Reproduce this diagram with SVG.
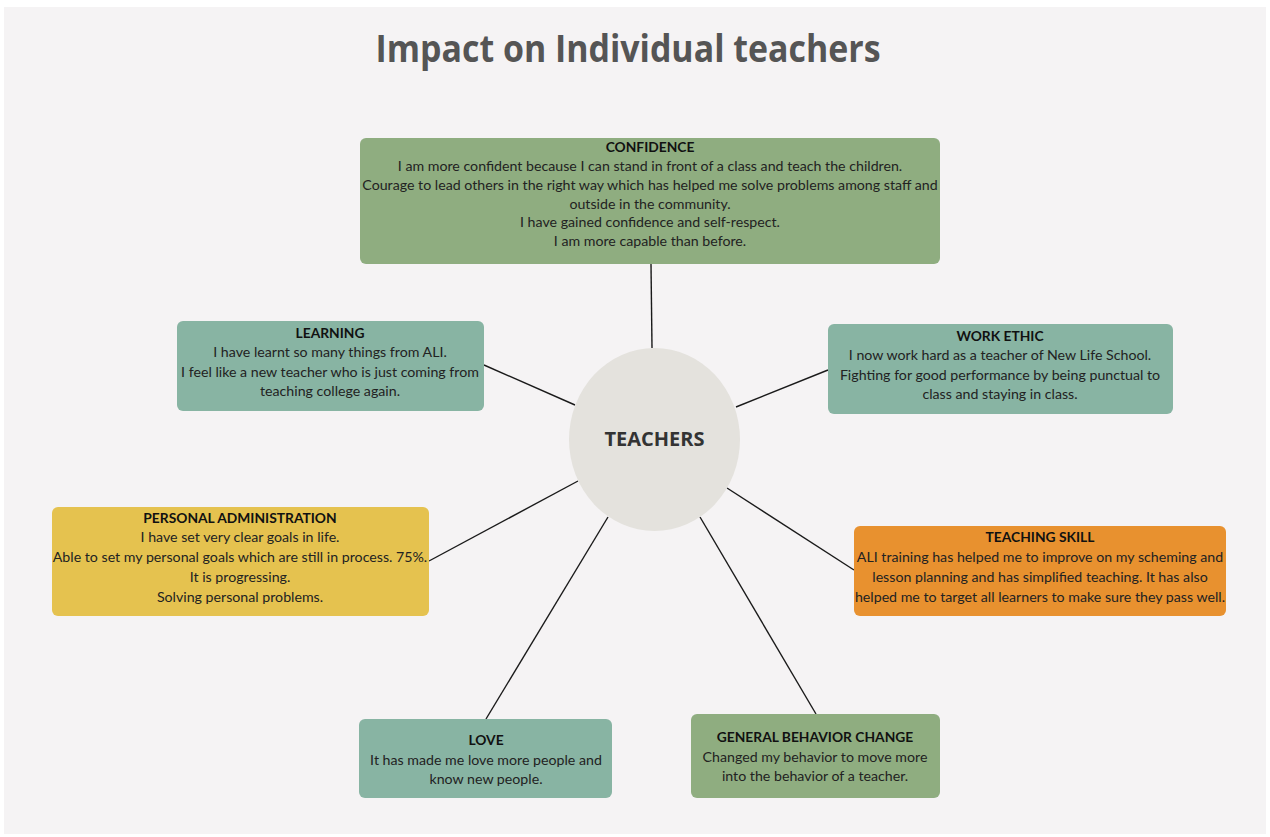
<svg xmlns="http://www.w3.org/2000/svg" width="1270" height="837" viewBox="0 0 1270 837">
<style>
.t{font-family:Lato,"Noto Sans",sans-serif;font-size:14.2px;fill:#222;text-anchor:middle}
.h{font-weight:700;fill:#111;font-size:13.8px}
.box{stroke:none}
.c{stroke:#1a1a1a;stroke-width:1.4;fill:none}
</style>
<rect x="0" y="0" width="1270" height="837" fill="#ffffff"/>
<rect x="4" y="7" width="1262" height="827" fill="#f5f3f4"/>
<text x="628" y="62" font-family="'Open Sans',sans-serif" font-weight="700" font-size="38" fill="#555555" text-anchor="middle" textLength="505" lengthAdjust="spacingAndGlyphs">Impact on Individual teachers</text>
<g id="connectors">
<line class="c" x1="651" y1="264" x2="652" y2="348"/>
<line class="c" x1="484" y1="365" x2="575" y2="405"/>
<line class="c" x1="828" y1="370" x2="736" y2="407"/>
<line class="c" x1="429" y1="561" x2="578" y2="481"/>
<line class="c" x1="854" y1="570" x2="727" y2="488"/>
<line class="c" x1="486" y1="719" x2="608" y2="517"/>
<line class="c" x1="816" y1="714" x2="700" y2="517"/>
</g>
<g id="teachers">
<ellipse cx="654.5" cy="439.5" rx="85.5" ry="91.5" fill="#e4e2dd"/>
<text x="654.5" y="446" font-family="'Open Sans',sans-serif" font-weight="700" font-size="20" fill="#333333" text-anchor="middle">TEACHERS</text>
</g>
<g id="confidence">
<rect class="box" x="360" y="138" width="580" height="126" rx="6" fill="#8fad80"/>
<text class="t h" x="650" y="152">CONFIDENCE</text>
<text class="t" x="650" y="171">I am more confident because I can stand in front of a class and teach the children.</text>
<text class="t" x="650" y="190">Courage to lead others in the right way which has helped me solve problems among staff and</text>
<text class="t" x="650" y="209">outside in the community.</text>
<text class="t" x="650" y="227">I have gained confidence and self-respect.</text>
<text class="t" x="650" y="246">I am more capable than before.</text>
</g>
<g id="learning">
<rect class="box" x="177" y="321" width="307" height="90" rx="6" fill="#88b4a3"/>
<text class="t h" x="330" y="338">LEARNING</text>
<text class="t" x="330" y="357">I have learnt so many things from ALI.</text>
<text class="t" x="330" y="377">I feel like a new teacher who is just coming from</text>
<text class="t" x="330" y="396">teaching college again.</text>
</g>
<g id="work-ethic">
<rect class="box" x="828" y="324" width="345" height="90" rx="6" fill="#88b4a3"/>
<text class="t h" x="1000" y="341">WORK ETHIC</text>
<text class="t" x="1000" y="360">I now work hard as a teacher of New Life School.</text>
<text class="t" x="1000" y="380">Fighting for good performance by being punctual to</text>
<text class="t" x="1000" y="399">class and staying in class.</text>
</g>
<g id="personal-administration">
<rect class="box" x="52" y="507" width="377" height="109" rx="6" fill="#e5c24f"/>
<text class="t h" x="240" y="523">PERSONAL ADMINISTRATION</text>
<text class="t" x="240" y="542">I have set very clear goals in life.</text>
<text class="t" x="240" y="562">Able to set my personal goals which are still in process. 75%.</text>
<text class="t" x="240" y="582">It is progressing.</text>
<text class="t" x="240" y="602">Solving personal problems.</text>
</g>
<g id="teaching-skill">
<rect class="box" x="854" y="526" width="372" height="90" rx="6" fill="#e8912f"/>
<text class="t h" x="1040" y="542">TEACHING SKILL</text>
<text class="t" x="1040" y="562">ALI training has helped me to improve on my scheming and</text>
<text class="t" x="1040" y="582">lesson planning and has simplified teaching. It has also</text>
<text class="t" x="1040" y="602">helped me to target all learners to make sure they pass well.</text>
</g>
<g id="love">
<rect class="box" x="359" y="719" width="253" height="79" rx="6" fill="#88b4a3"/>
<text class="t h" x="486" y="745">LOVE</text>
<text class="t" x="486" y="765">It has made me love more people and</text>
<text class="t" x="486" y="784">know new people.</text>
</g>
<g id="general-behavior-change">
<rect class="box" x="691" y="714" width="249" height="84" rx="6" fill="#8fad80"/>
<text class="t h" x="815" y="742">GENERAL BEHAVIOR CHANGE</text>
<text class="t" x="815" y="762">Changed my behavior to move more</text>
<text class="t" x="815" y="781">into the behavior of a teacher.</text>
</g>
</svg>
